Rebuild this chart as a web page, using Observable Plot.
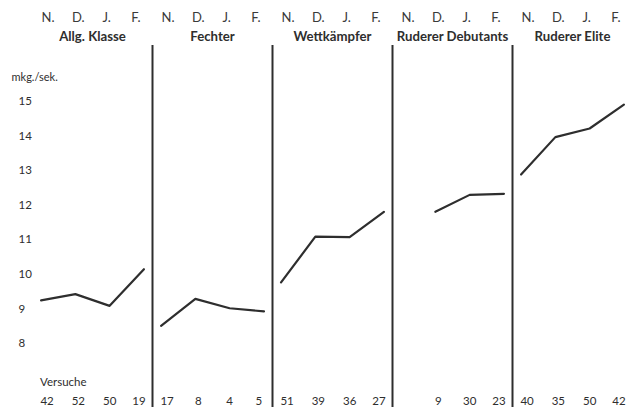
<!DOCTYPE html>
<html>
<head>
<meta charset="utf-8">
<script src="https://cdn.jsdelivr.net/npm/d3@7"></script>
<script src="https://cdn.jsdelivr.net/npm/@observablehq/plot@0.6"></script>
<style>
  html, body { margin: 0; padding: 0; background: #fff; }
  #chart svg { display: block; }
</style>
</head>
<body>
<div id="chart"></div>
<script>
const months = ["N.", "D.", "J.", "F."];
const groups = ["Allg. Klasse", "Fechter", "Wettkämpfer", "Ruderer Debutants", "Ruderer Elite"];

const allgKlasse       = [9.25, 9.43, 9.09, 10.15];
const fechter          = [8.51, 9.29, 9.02, 8.93];
const wettkaempfer     = [9.77, 11.09, 11.08, 11.81];
const rudererDebutants = [null, 11.81, 12.30, 12.33];
const rudererElite     = [12.89, 13.97, 14.22, 14.91];

const versucheAllg      = [42, 52, 50, 19];
const versucheFechter   = [17, 8, 4, 5];
const versucheWett      = [51, 39, 36, 27];
const versucheDebutants = [null, 9, 30, 23];
const versucheElite     = [40, 35, 50, 42];

const yTicks = [8, 9, 10, 11, 12, 13, 14, 15];
const yUnit = "mkg./sek.";
const versucheLabel = "Versuche";

const seriesValues = [allgKlasse, fechter, wettkaempfer, rudererDebutants, rudererElite];
const seriesCounts = [versucheAllg, versucheFechter, versucheWett, versucheDebutants, versucheElite];

const rows = [];
groups.forEach((g, gi) => {
  months.forEach((m, mi) => {
    rows.push({group: g, i: mi, month: m, value: seriesValues[gi][mi], count: seriesCounts[gi][mi]});
  });
});

const font = "Lato, 'Open Sans', sans-serif";
const ink = "#2e2e2e";

// labels in the print sit slightly narrower than the plotted points
const monthDx = [7, 3, -3, -8];
const countDx = [6, 3, 0, -5];

const monthMarks = months.map((m, mi) =>
  Plot.text(rows.filter(d => d.i === mi), {fx: "group", x: "i", text: "month", frameAnchor: "top", lineAnchor: "middle", dx: monthDx[mi], dy: -28, fontSize: 13, fill: "#3a3a3a"})
);
const countMarks = months.map((m, mi) =>
  Plot.text(rows.filter(d => d.i === mi && d.count != null), {fx: "group", x: "i", text: "count", frameAnchor: "bottom", lineAnchor: "middle", dx: countDx[mi], dy: -6, fontSize: 11.5, fill: ink})
);

const chart = Plot.plot({
  width: 632,
  height: 407,
  marginLeft: 32,
  marginRight: 0,
  marginTop: 45,
  marginBottom: 0,
  style: {fontFamily: font, fontSize: "12px", color: ink, background: "#fff"},
  fx: {domain: groups, axis: null, padding: 0},
  x: {domain: [-0.25, 3.25], axis: null},
  y: {domain: [6.15, 16.62], axis: null},
  marks: [
    Plot.axisY({ticks: yTicks, tickSize: 0, tickPadding: 14, textAnchor: "start", label: null, fontSize: 11.5, fill: ink}),
    Plot.text([yUnit], {fx: () => groups[0], frameAnchor: "top-left", lineAnchor: "middle", text: d => d, dx: -21, dy: 32, textAnchor: "start", fontSize: 11, fill: ink}),
    Plot.ruleX(groups.slice(1), {fx: d => d, x: -0.25, stroke: ink, strokeWidth: 2}),
    Plot.text(groups, {fx: d => d, text: d => d, frameAnchor: "top", lineAnchor: "middle", dy: -9, fontWeight: "bold", fontSize: 13.2, fill: ink}),
    ...monthMarks,
    Plot.line(rows, {fx: "group", x: "i", y: "value", stroke: ink, strokeWidth: 2.2, defined: d => d.value != null}),
    Plot.text([versucheLabel], {fx: () => groups[0], x: () => 0, frameAnchor: "bottom", lineAnchor: "middle", text: d => d, dx: -1, dy: -25, textAnchor: "start", fontSize: 11.5, fill: ink}),
    ...countMarks
  ]
});

document.getElementById("chart").appendChild(chart);
</script>
</body>
</html>
